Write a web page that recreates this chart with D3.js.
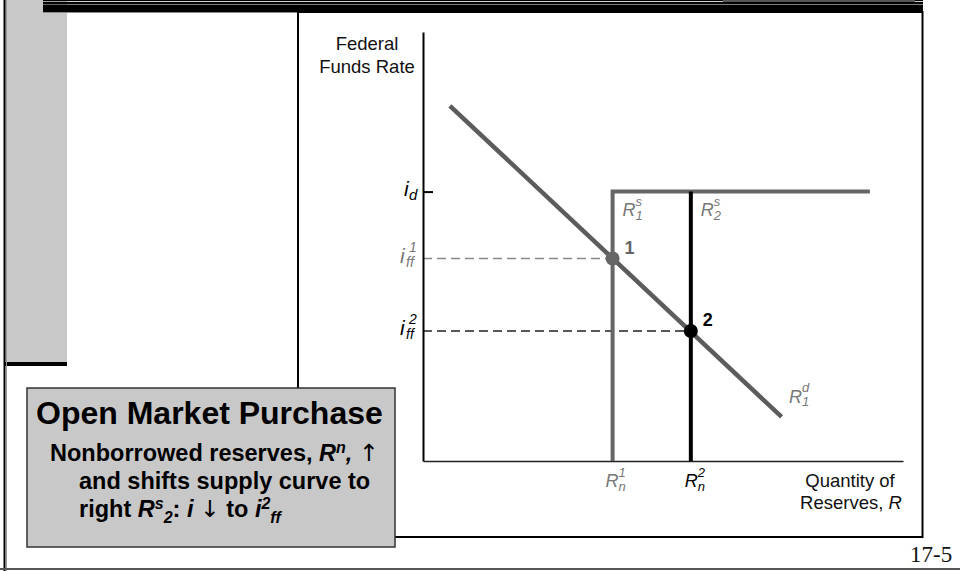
<!DOCTYPE html>
<html>
<head>
<meta charset="utf-8">
<script src="https://cdn.jsdelivr.net/npm/d3@7"></script>
<style>
  body { margin: 0; background: #fff; }
  svg { display: block; }
  text { font-family: "Liberation Sans", Arial, Helvetica, sans-serif; }
</style>
</head>
<body>
<svg id="slide" width="960" height="571"></svg>
<script>
// quantity of reserves (x) and federal funds rate (y), both on a 0-100 scale
var demandQ = [5.6, 74.7];
var demandR = [82.8, 10.3];
var supplyQ = [39.5, 55.8];      // R_n^1, R_n^2
var eqRates = [47.2, 30.3];      // i_ff^1, i_ff^2
var eqNames = ["1", "2"];
var discountRate = 62.8;          // i_d
var supplyEndQ = 93.1;

var svg = d3.select("#slide");

// ---- slide decoration ----
svg.append("rect").attr("x", 5).attr("y", 0).attr("width", 62).attr("height", 362).attr("fill", "#c8c8c8");
svg.append("rect").attr("x", 5).attr("y", 362).attr("width", 62).attr("height", 4).attr("fill", "#000");
svg.append("line").attr("x1", 4.5).attr("x2", 4.5).attr("y1", 0).attr("y2", 571)
	.attr("stroke", "#000").attr("stroke-width", 2);
svg.append("line").attr("x1", 6.5).attr("x2", 6.5).attr("y1", 0).attr("y2", 571)
	.attr("stroke", "#999").attr("stroke-width", 1);

// stripes along the top
[[0, 1.2], [2, 2.5], [5, 7]].forEach(function(s) {
	svg.append("rect").attr("x", 43).attr("y", s[0]).attr("width", 880).attr("height", s[1]).attr("fill", "#000");
});
svg.append("rect").attr("x", 723).attr("y", 0).attr("width", 192).attr("height", 2).attr("fill", "#555");
svg.append("line").attr("x1", 43).attr("x2", 923).attr("y1", 12.5).attr("y2", 12.5)
	.attr("stroke", "#888").attr("stroke-width", 1);

// chart box
svg.append("rect").attr("x", 298).attr("y", 12).attr("width", 624.5).attr("height", 525)
	.attr("fill", "none").attr("stroke", "#000").attr("stroke-width", 2);

svg.append("line").attr("x1", 0).attr("x2", 960).attr("y1", 569).attr("y2", 569)
	.attr("stroke", "#555").attr("stroke-width", 2);

svg.append("text").attr("x", 910).attr("y", 562)
	.style("font-family", "'Liberation Serif', 'Times New Roman', serif")
	.style("font-size", "23px").attr("fill", "#111").text("17-5");

// ---- chart ----
var x = d3.scaleLinear().domain([0, 100]).range([423, 903]);
var y = d3.scaleLinear().domain([0, 100]).range([461, 32]);

var gray = "#666";
var darkGray = "#5c5c5c";

// dashed guides to the y axis
eqRates.forEach(function(r, i) {
	svg.append("line")
		.attr("x1", x(0)).attr("x2", x(supplyQ[i]))
		.attr("y1", y(r)).attr("y2", y(r))
		.attr("stroke", i == 0 ? "#888" : "#222")
		.attr("stroke-width", 1.5)
		.attr("stroke-dasharray", "9,5");
});

// axes
svg.append("g")
	.attr("transform", "translate(" + x(0) + ",0)")
	.call(d3.axisRight(y).tickValues([discountRate]).tickSize(10).tickSizeOuter(0).tickFormat(""))
	.call(function(g) {
		g.select(".domain").attr("stroke", "#000").attr("stroke-width", 2);
		g.selectAll(".tick line").attr("stroke", "#000").attr("stroke-width", 2);
	});

svg.append("g")
	.attr("transform", "translate(0," + y(0) + ")")
	.call(d3.axisBottom(x).tickValues([]).tickSizeOuter(0))
	.call(function(g) {
		g.select(".domain").attr("stroke", "#222").attr("stroke-width", 1.6);
	});

// supply curves
svg.append("path")
	.attr("d", d3.line()([[x(supplyQ[0]), y(0)], [x(supplyQ[0]), y(discountRate)], [x(supplyEndQ), y(discountRate)]]))
	.attr("fill", "none").attr("stroke", gray).attr("stroke-width", 4);

svg.append("line")
	.attr("x1", x(supplyQ[1])).attr("x2", x(supplyQ[1]))
	.attr("y1", y(0)).attr("y2", y(discountRate))
	.attr("stroke", "#000").attr("stroke-width", 4);

// demand curve
svg.append("line")
	.attr("x1", x(demandQ[0])).attr("y1", y(demandR[0]))
	.attr("x2", x(demandQ[1])).attr("y2", y(demandR[1]))
	.attr("stroke", darkGray).attr("stroke-width", 4.5);

// equilibrium points
svg.selectAll(".eq")
	.data(eqNames)
	.enter()
	.append("circle")
		.attr("cx", function(d, i) { return x(supplyQ[i]); })
		.attr("cy", function(d, i) { return y(eqRates[i]); })
		.attr("r", 7)
		.attr("fill", function(d, i) { return i == 0 ? gray : "#000"; });

svg.selectAll(".eqlabel")
	.data(eqNames)
	.enter()
	.append("text")
		.attr("x", function(d, i) { return x(supplyQ[i]) + 12; })
		.attr("y", function(d, i) { return y(eqRates[i]) - 5; })
		.attr("fill", function(d, i) { return i == 0 ? gray : "#000"; })
		.style("font-size", "18px").style("font-weight", "bold")
		.text(function(d) { return d; });

// base letter with stacked superscript and subscript
function label(px, py, base, sup, sub, color, size, small, offs) {
	var g = svg.append("g").attr("fill", color).style("font-style", "italic");
	g.append("text").attr("x", px).attr("y", py).style("font-size", size + "px").text(base);
	if (sup) g.append("text").attr("x", px + offs[0]).attr("y", py + offs[1])
		.style("font-size", small + "px").text(sup);
	if (sub) g.append("text").attr("x", px + offs[2]).attr("y", py + offs[3])
		.style("font-size", small + "px").text(sub);
}

// y axis labels
label(404, y(discountRate) + 4, "i", null, "d", "#000", 21, 15, [0, 0, 5, 4]);
label(400, y(eqRates[0]) + 4, "i", "1", "ff", "#777", 21, 14, [9, -11, 6, 4]);
label(400, y(eqRates[1]) + 4, "i", "2", "ff", "#000", 21, 14, [9, -11, 6, 4]);

// x axis labels
label(x(supplyQ[0]) - 7, y(0) + 26, "R", "1", "n", "#777", 18, 13, [13, -10, 13, 4]);
label(x(supplyQ[1]) - 6, y(0) + 26, "R", "2", "n", "#000", 18, 13, [13, -10, 13, 4]);

// curve labels
label(x(supplyQ[0]) + 10, y(discountRate) + 24, "R", "s", "1", "#777", 18, 13, [13, -10, 13, 4]);
label(x(supplyQ[1]) + 10, y(discountRate) + 24, "R", "s", "2", "#777", 18, 13, [13, -10, 13, 4]);
label(789, 403, "R", "d", "1", "#777", 18, 13, [13, -11, 13, 3]);

// axis titles
var yTitle = svg.append("text").attr("text-anchor", "middle").attr("fill", "#111").style("font-size", "18.5px");
yTitle.append("tspan").attr("x", 367).attr("y", 50).text("Federal");
yTitle.append("tspan").attr("x", 367).attr("y", 73).text("Funds Rate");

var xTitle = svg.append("text").attr("text-anchor", "middle").attr("fill", "#111").style("font-size", "18.5px");
xTitle.append("tspan").attr("x", 850).attr("y", 487).text("Quantity of");
var l2 = xTitle.append("tspan").attr("x", 851).attr("y", 509);
l2.append("tspan").text("Reserves, ");
l2.append("tspan").style("font-style", "italic").text("R");

// ---- caption box ----
svg.append("rect").attr("x", 27).attr("y", 388).attr("width", 368).attr("height", 159)
	.attr("fill", "#c8c8c8").attr("stroke", "#333").attr("stroke-width", 1.5);

svg.append("text").attr("x", 36).attr("y", 424).attr("fill", "#000")
	.style("font-size", "32px").style("font-weight", "bold")
	.text("Open Market Purchase");

var body = svg.append("g").attr("fill", "#000").style("font-weight", "bold").style("font-size", "23.5px");
var arrowFont = "'DejaVu Sans', sans-serif";

var t1 = body.append("text").attr("x", 50).attr("y", 461);
t1.append("tspan").text("Nonborrowed reserves, ");
t1.append("tspan").style("font-style", "italic").text("R");
t1.append("tspan").attr("dy", -8).style("font-size", "16px").style("font-style", "italic").text("n");
t1.append("tspan").attr("dy", 8).style("font-style", "italic").text(",");
t1.append("tspan").text(" ");
t1.append("tspan").style("font-family", arrowFont).style("font-weight", "normal").text("\u2191");

body.append("text").attr("x", 79).attr("y", 489).text("and shifts supply curve to");

var t3 = body.append("text").attr("x", 79).attr("y", 517);
t3.append("tspan").text("right ");
t3.append("tspan").style("font-style", "italic").text("R");
t3.append("tspan").attr("dy", -8).style("font-size", "16px").style("font-style", "italic").text("s");
t3.append("tspan").attr("dy", 14).style("font-size", "16px").style("font-style", "italic").text("2");
t3.append("tspan").attr("dy", -6).text(": ");
t3.append("tspan").style("font-style", "italic").text("i");
t3.append("tspan").text(" ");
t3.append("tspan").style("font-family", arrowFont).style("font-weight", "normal").text("\u2193");
t3.append("tspan").text(" to ");
t3.append("tspan").style("font-style", "italic").text("i");
t3.append("tspan").attr("dy", -8).style("font-size", "16px").style("font-style", "italic").text("2");
t3.append("tspan").attr("dy", 14).style("font-size", "16px").style("font-style", "italic").text("ff");
</script>
</body>
</html>
